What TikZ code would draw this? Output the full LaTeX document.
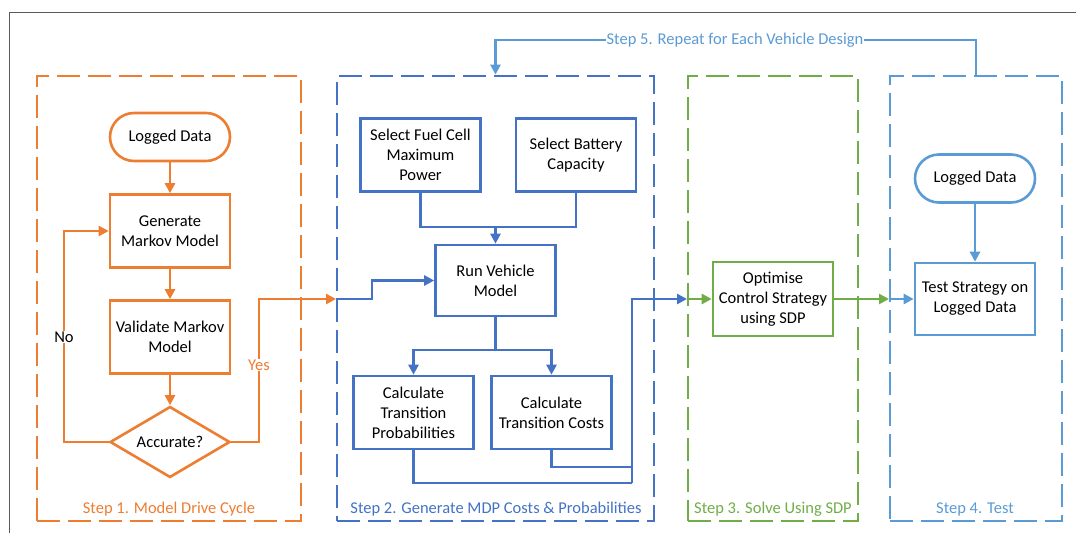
\documentclass[tikz,border=0pt]{standalone}
\usepackage{fontspec}
\setmainfont{Carlito}
\usetikzlibrary{arrows.meta,shapes.geometric}
\definecolor{orangeC}{HTML}{ED7D31}
\definecolor{blueC}{HTML}{4472C4}
\definecolor{greenC}{HTML}{70AD47}
\definecolor{skyC}{HTML}{5B9BD5}
\definecolor{frameC}{HTML}{5A5A5A}
\newcommand{\boxfont}{\fontsize{16.5}{20.1}\selectfont}
\begin{document}
\begin{tikzpicture}[x=1pt,y=-1pt,
  box/.style={draw, line width=2.6pt, fill=white, minimum width=120pt,
    minimum height=73pt, inner sep=1pt, align=center, font=\boxfont},
  term/.style={box, minimum height=48pt, rounded corners=24pt},
  decide/.style={draw, line width=2.6pt, fill=white, diamond, aspect=1.69,
    minimum width=120pt, minimum height=71pt, inner sep=0pt, font=\boxfont},
  grp/.style={draw, line width=2.8pt, dash pattern=on 23pt off 8pt,
    minimum height=445pt, inner sep=0pt},
  steplabel/.style={font=\boxfont, anchor=base, inner sep=1pt},
  link/.style={line width=2.6pt},
  tip/.style={link, -{Triangle[length=10pt,width=10pt]}},
  tag/.style={fill=white, font=\boxfont, inner sep=1pt}
]
\useasboundingbox (0,0) rectangle (1076,533);

% page frame
\draw[frameC, line width=1pt] (9,533) -- (9,12) -- (1076,12);

% step groups
\node[grp, draw=orangeC, minimum width=264pt] (g1) at (169,298.5) {};
\node[grp, draw=blueC,   minimum width=317pt] (g2) at (495.5,298.5) {};
\node[grp, draw=greenC,  minimum width=170pt] (g3) at (773,298.5) {};
\node[grp, draw=skyC,    minimum width=172pt] (g4) at (976,298.5) {};

\node[steplabel, text=orangeC] (l1) at (169,513) {Step 1. Model Drive Cycle};
\node[steplabel, text=blueC]   (l2) at (496,513) {Step 2. Generate MDP Costs \& Probabilities};
\node[steplabel, text=greenC]  (l3) at (773,513) {Step 3. Solve Using SDP};
\node[steplabel, text=skyC]    (l4) at (975,513) {Step 4. Test};

% step 1
\node[term, draw=orangeC] (ld1) at (170,137) {Logged Data};
\node[box, draw=orangeC] (gen) at (170,231) {Generate\\Markov Model};
\node[box, draw=orangeC] (val) at (170,337) {Validate Markov\\Model};
\node[decide, draw=orangeC] (acc) at (170,442) {Accurate?};

% step 2
\node[box, draw=blueC] (fc) at (420.5,155) {Select Fuel Cell\\Maximum\\Power};
\node[box, draw=blueC] (bc) at (576,155) {Select Battery\\Capacity};
\node[box, draw=blueC, minimum height=71pt] (run) at (495.5,280.5) {Run Vehicle\\Model};
\node[box, draw=blueC] (cp) at (413.5,412.5) {Calculate\\Transition\\Probabilities};
\node[box, draw=blueC] (cc) at (551.5,412.5) {Calculate\\Transition Costs};

% step 3
\node[box, draw=greenC, minimum height=74pt] (opt) at (773,299) {Optimise\\Control Strategy\\using SDP};

% step 4
\node[term, draw=skyC] (ld2) at (975,178.5) {Logged Data};
\node[box, draw=skyC, minimum height=72pt] (test) at (975,299) {Test Strategy on\\Logged Data};

% junction points
\coordinate (noc) at (64,442);
\coordinate (yesc) at (259,442);
\coordinate (s2in) at (336,299);
\coordinate (jog) at (372,299);
\coordinate (jn) at (495.5,227);
\coordinate (sp) at (495.5,350);
\coordinate (mg) at (632,483);
\coordinate (cj) at (632,467);
\coordinate (s3in) at (687,299);
\coordinate (s4in) at (889,299);
\coordinate (s5c) at (495.5,40);

% step 1 flow
\draw[tip, orangeC] (ld1) -- (gen);
\draw[tip, orangeC] (gen) -- (val);
\draw[tip, orangeC] (val) -- (acc);
\draw[tip, orangeC] (acc.west) -- (noc) |- (gen.west);
\node[tag] (no) at (64,337) {No};
\draw[tip, orangeC] (acc.east) -- (yesc) |- (s2in);
\node[tag, text=orangeC] (yes) at (259,365) {Yes};

% step 2 flow
\draw[tip, blueC] (s2in) -- (jog) |- (run.west);
\draw[link, blueC] (fc.south) |- (jn);
\draw[link, blueC] (bc.south) |- (jn);
\draw[tip, blueC] (jn) -- (run.north);
\draw[link, blueC] (run.south) -- (sp);
\draw[tip, blueC] (sp) -| (cp.north);
\draw[tip, blueC] (sp) -| (cc.north);
\draw[link, blueC] (cp.south) |- (mg);
\draw[link, blueC] (cc.south) |- (cj);
\draw[tip, blueC] (mg) |- (s3in);

% step 3 and 4 flow
\draw[tip, greenC] (s3in) -- (opt.west);
\draw[tip, greenC] (opt.east) -- (s4in);
\draw[tip, skyC] (s4in) -- (test.west);
\draw[tip, skyC] (ld2) -- (test);

% step 5 loop back
\draw[tip, skyC] (g4.north) |- (s5c) -- (g2.north);
\node[tag, text=skyC] (rep) at (735,40) {Step 5. Repeat for Each Vehicle Design};
\end{tikzpicture}
\end{document}
